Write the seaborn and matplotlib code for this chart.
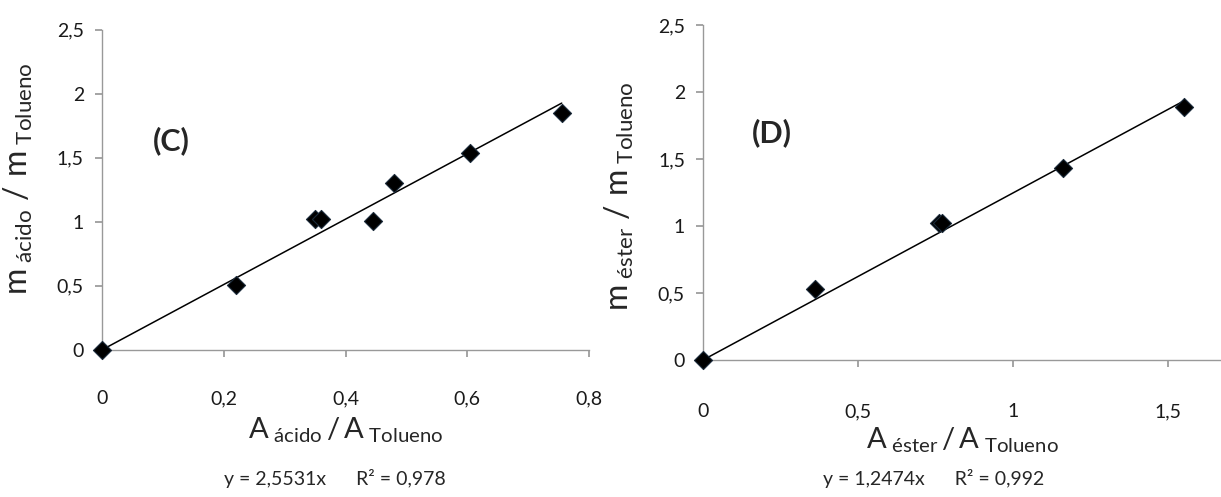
import matplotlib
matplotlib.use("Agg")
import matplotlib.pyplot as plt
import seaborn as sns
import pandas as pd
import numpy as np

# ---- data ----
x_acido = [0.0, 0.22, 0.35, 0.36, 0.445, 0.48, 0.605, 0.755]
y_acido = [0.0, 0.51, 1.02, 1.02, 1.01, 1.30, 1.54, 1.85]
slope_acido = 2.5531
r2_acido = "0,978"

x_ester = [0.0, 0.36, 0.76, 0.77, 1.16, 1.55]
y_ester = [0.0, 0.53, 1.02, 1.02, 1.43, 1.89]
slope_ester = 1.2474
r2_ester = "0,992"

yticks = [0, 0.5, 1, 1.5, 2, 2.5]
ytick_labels = ["0", "0,5", "1", "1,5", "2", "2,5"]
xticks_c = [0, 0.2, 0.4, 0.6, 0.8]
xtick_labels_c = ["0", "0,2", "0,4", "0,6", "0,8"]
xticks_d = [0, 0.5, 1, 1.5]
xtick_labels_d = ["0", "0,5", "1", "1,5"]

sns.set_theme(style="white")
plt.rcParams['font.family'] = ['Lato', 'DejaVu Sans']
plt.rcParams['mathtext.fontset'] = 'custom'
plt.rcParams['mathtext.rm'] = 'Lato'
plt.rcParams['mathtext.it'] = 'Lato'
plt.rcParams['mathtext.bf'] = 'Lato:bold'

fig = plt.figure(figsize=(12.21, 4.97), dpi=100)
axC = fig.add_axes([0.0835, 0.296, 0.399, 0.644])
axD = fig.add_axes([0.5758, 0.2757, 0.4242, 0.674])


def style(ax, xlim, xticks, xlabels, pad_x):
    ax.set_ylim(0, 2.5)
    ax.set_xlim(*xlim)
    ax.set_yticks(yticks)
    ax.set_yticklabels(ytick_labels, fontsize=14, color="#1a1a1a")
    ax.set_xticks(xticks)
    ax.set_xticklabels(xlabels, fontsize=14, color="#1a1a1a")
    for s in ["top", "right"]:
        ax.spines[s].set_visible(False)
    for s in ["left", "bottom"]:
        ax.spines[s].set_color("#999999")
        ax.spines[s].set_linewidth(1.0)
    ax.tick_params(axis="x", direction="out", length=5, color="#999999", pad=pad_x, bottom=True)
    ax.tick_params(axis="y", direction="out", length=5, color="#999999", pad=8, left=True)
    ax.set_facecolor("white")


# (C)
dfC = pd.DataFrame({"x": x_acido, "y": y_acido})
sns.scatterplot(data=dfC, x="x", y="y", ax=axC, marker="D", s=85, color="black",
                edgecolor="#1a2a3a", linewidth=0.8, zorder=3, clip_on=False)
xl = np.array([0, max(x_acido)])
axC.plot(xl, slope_acido * xl, color="black", lw=1.1, zorder=2)
style(axC, (0, 0.8), xticks_c, xtick_labels_c, 24)
axC.set_xlabel(r"$\mathrm{A}_{\ \mathrm{ácido}}\,/\,\mathrm{A}_{\ \mathrm{Tolueno}}$", fontsize=21, labelpad=6)
axC.set_ylabel(r"$\mathrm{m}_{\ \mathrm{ácido}}\ /\ \mathrm{m}_{\ \mathrm{Tolueno}}$", fontsize=23, labelpad=16)
axC.yaxis.label.set_y(0.535)
axC.text(0.105, 0.625, "(C)", transform=axC.transAxes, fontsize=22, fontweight="bold")
fig.text(0.274, 0.025, "y = 2,5531x      R² = " + r2_acido, ha="center", fontsize=14)

# (D)
dfD = pd.DataFrame({"x": x_ester, "y": y_ester})
sns.scatterplot(data=dfD, x="x", y="y", ax=axD, marker="D", s=85, color="black",
                edgecolor="#1a2a3a", linewidth=0.8, zorder=3, clip_on=False)
xl = np.array([0, max(x_ester)])
axD.plot(xl, slope_ester * xl, color="black", lw=1.1, zorder=2)
style(axD, (0, 1.67), xticks_d, xtick_labels_d, 26)
axD.set_xlabel(r"$\mathrm{A}_{\ \mathrm{éster}}\,/\,\mathrm{A}_{\ \mathrm{Tolueno}}$", fontsize=21, labelpad=4)
axD.set_ylabel(r"$\mathrm{m}_{\ \mathrm{éster}}\ /\ \mathrm{m}_{\ \mathrm{Tolueno}}$", fontsize=23, labelpad=16)
axD.yaxis.label.set_y(0.49)
axD.text(0.095, 0.65, "(D)", transform=axD.transAxes, fontsize=22, fontweight="bold")
fig.text(0.765, 0.025, "y = 1,2474x      R² = " + r2_ester, ha="center", fontsize=14)

fig.savefig("out.png", dpi=100, facecolor="white")
